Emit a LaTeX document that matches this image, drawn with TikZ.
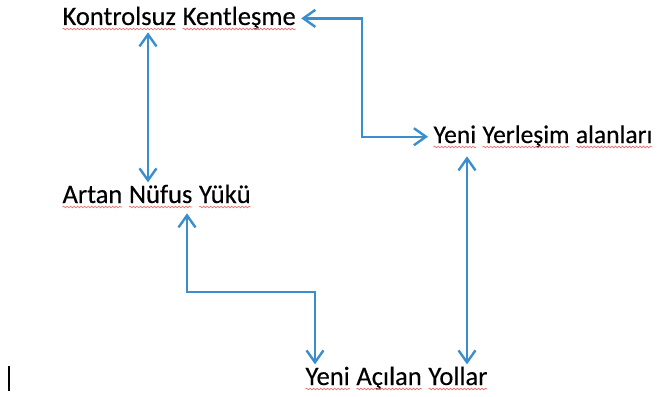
\documentclass[tikz,border=0pt]{standalone}
\usepackage{fontspec}
\setmainfont{Carlito}[FakeBold=0.35]
\usetikzlibrary{arrows.meta,decorations.pathmorphing}
\definecolor{linkblue}{RGB}{58,142,206}
\definecolor{spellred}{RGB}{236,110,110}
% spell-check wave under one word
\newcommand{\squig}[1]{\tikz[baseline=(w.base)]{\node[inner sep=0pt,outer sep=0pt] (w) {#1};
    \draw[spellred, line width=0.7pt, decorate, decoration={snake, amplitude=0.8pt, segment length=3.5pt}]
        ([yshift=-4pt]w.base west) -- ([yshift=-4pt]w.base east);}}

\begin{document}
\begin{tikzpicture}[x=1pt, y=-1pt]
    \tikzstyle{term} = [anchor=base west, inner sep=5pt, font=\fontsize{26.5}{32}\selectfont]
    \tikzstyle{link} = [draw=linkblue, line width=2.4pt,
        {Straight Barb[length=12pt, width=17pt]}-{Straight Barb[length=12pt, width=17pt]}]
    \useasboundingbox (0,0) rectangle (658,396);

    % terimler
    \path   (57, 25)  node [term, name=kk] {\squig{Kontrolsuz} \squig{Kentleşme}}
            (428, 143) node [term, name=yy, font=\fontsize{25.5}{31}\selectfont] {\squig{Yeni} \squig{Yerleşim} \squig{alanları}}
            (57, 203) node [term, name=an] {\squig{Artan} \squig{Nüfus} \squig{Yükü}}
            (300, 385) node [term, name=ya] {\squig{Yeni} \squig{Açılan} \squig{Yollar}};

    % kırılma noktaları
    \coordinate (c1) at (148, 0);
    \coordinate (r1) at (362, 0);
    \coordinate (c2) at (467, 0);
    \coordinate (c3) at (187, 292);
    \coordinate (c4) at (315, 0);

    % oklar
    \draw[link, shorten <=-3pt, shorten >=-3pt] (kk.south -| c1) -- (an.north -| c1);
    \draw[link] (kk.east) -- (kk.east -| r1) |- (yy.west);
    \draw[link, shorten <=3pt, shorten >=-3pt] (yy.south -| c2) -- (ya.north -| c2);
    \draw[link, shorten >=-3pt] (an.south -| c3) -- (c3) -| (ya.north -| c4);

    % imleç
    \draw[line width=1.5pt] (9, 366) -- (9, 391);
\end{tikzpicture}
\end{document}
